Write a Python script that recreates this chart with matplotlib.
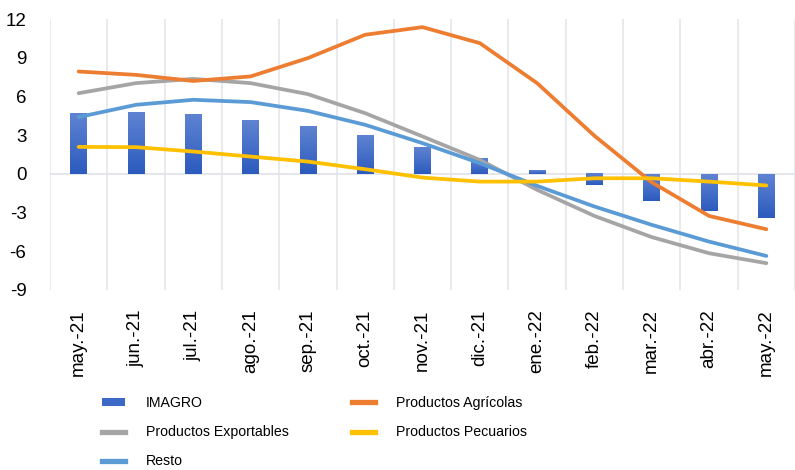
import numpy as np
import matplotlib
matplotlib.use("Agg")
import matplotlib.pyplot as plt
from matplotlib import font_manager
from matplotlib.lines import Line2D
from matplotlib.patches import Patch
from matplotlib.colors import LinearSegmentedColormap

categories = ["may.-21", "jun.-21", "jul.-21", "ago.-21", "sep.-21", "oct.-21", "nov.-21",
              "dic.-21", "ene.-22", "feb.-22", "mar.-22", "abr.-22", "may.-22"]
imagro = [4.7, 4.8, 4.6, 4.15, 3.7, 3.0, 2.07, 1.19, 0.26, -0.9, -2.07, -2.84, -3.39]
agricolas = [7.93, 7.67, 7.2, 7.55, 8.97, 10.78, 11.37, 10.13, 7.03, 2.95, -0.65, -3.26, -4.29]
exportables = [6.25, 7.03, 7.36, 7.03, 6.18, 4.7, 2.9, 1.08, -1.24, -3.26, -4.9, -6.15, -6.92]
resto = [4.4, 5.35, 5.74, 5.56, 4.88, 3.8, 2.38, 0.83, -0.93, -2.53, -3.95, -5.25, -6.36]
pecuarios = [2.09, 2.07, 1.73, 1.34, 0.95, 0.36, -0.29, -0.6, -0.6, -0.34, -0.34, -0.6, -0.9]
yticks = [12, 9, 6, 3, 0, -3, -6, -9]

names = {f.name for f in font_manager.fontManager.ttflist}
base_font = "Liberation Sans" if "Liberation Sans" in names else "DejaVu Sans"
plt.rcParams["font.family"] = [base_font, "DejaVu Sans"]

W, H = 795, 470
fig = plt.figure(figsize=(W / 100, H / 100), dpi=100)
ax = fig.add_axes([50 / W, 1 - 290 / H, (795 - 50) / W, (290 - 19) / H])

x = np.arange(len(categories))
bw = 0.29
bars = ax.bar(x, imagro, width=bw, color="none", edgecolor="none", zorder=2)
grad = np.linspace(0, 1, 64).reshape(-1, 1)
cmap = LinearSegmentedColormap.from_list("g", ["#5f83d2", "#2c5bbe"])
for b in bars:
    x0, y0 = b.get_x(), b.get_y()
    w, h = b.get_width(), b.get_height()
    ylo, yhi = min(y0, y0 + h), max(y0, y0 + h)
    ax.imshow(grad, extent=[x0, x0 + w, ylo, yhi], origin="upper", cmap=cmap,
              aspect="auto", zorder=2, interpolation="bilinear")

lw = 2.7
kw = dict(lw=lw, solid_capstyle="round", solid_joinstyle="round")
ax.plot(x, exportables, color="#a5a5a5", zorder=3, **kw)
ax.plot(x, resto, color="#5b9bd5", zorder=4, **kw)
ax.plot(x, agricolas, color="#ed7d31", zorder=5, **kw)
ax.plot(x, pecuarios, color="#ffc000", zorder=6, **kw)

ax.set_ylim(-9, 12)
ax.set_xlim(-0.5, 12.31)
ax.set_yticks(yticks)
ax.set_yticklabels([str(v) for v in yticks], fontsize=13.5)
ax.set_xticks(x)
ax.set_xticklabels(categories, rotation=90, fontsize=13.5)
ax.set_xticks(np.arange(-0.5, 13, 1), minor=True)
ax.grid(which="minor", axis="x", color="#e1e4ea", lw=1.1, zorder=0)
ax.axhline(0, color="#dcdfe5", lw=1.1, zorder=1)
ax.tick_params(which="both", length=0)
ax.tick_params(axis="y", pad=17)
ax.tick_params(axis="x", pad=14)
for s in ax.spines.values():
    s.set_visible(False)

handles = [
    Patch(facecolor="#3d69c6", edgecolor="none"),
    Line2D([], [], color="#a5a5a5", lw=3.8),
    Line2D([], [], color="#5b9bd5", lw=3.8),
    Line2D([], [], color="#ed7d31", lw=3.8),
    Line2D([], [], color="#ffc000", lw=3.8),
]
labels = ["IMAGRO", "Productos Exportables", "Resto", "Productos Agrícolas", "Productos Pecuarios"]
fig.legend(handles, labels, ncol=2, loc="upper left",
           bbox_to_anchor=(102 / W, 1 - 396 / H), frameon=False,
           prop={"family": [base_font, "DejaVu Sans"], "size": 10.2},
           handlelength=1.6, handleheight=0.5, handletextpad=1.5, columnspacing=4.45,
           labelspacing=1.07, borderpad=0, borderaxespad=0)

fig.savefig("out.png", dpi=100)
